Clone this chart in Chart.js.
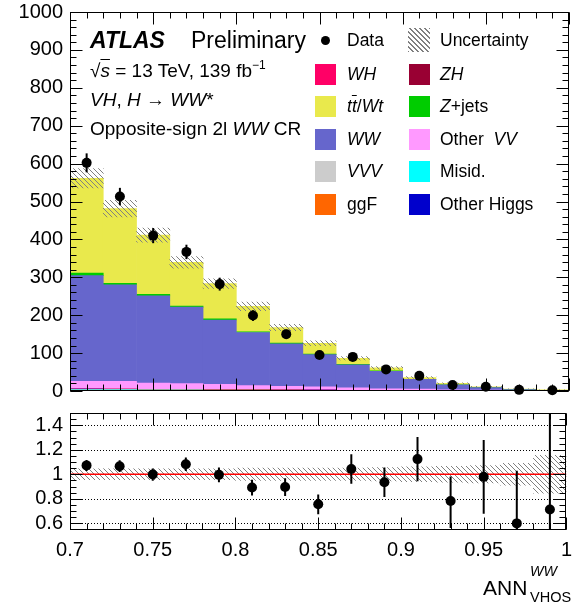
<!DOCTYPE html>
<html>
<head>
<meta charset="utf-8">
<script src="https://cdn.jsdelivr.net/npm/chart.js@4.4.1/dist/chart.umd.min.js"></script>
<style>
body { margin: 0; background: #fff; }
#wrap { position: relative; width: 580px; height: 608px; overflow: hidden; font-family: "Liberation Sans", Arial, sans-serif; color: #000; }
canvas { position: absolute; left: 0; }
#main { top: 0; }
#ratio { top: 400px; }
#frame { top: 0; }
.t { position: absolute; white-space: nowrap; line-height: 1; }
.lg { position: absolute; white-space: nowrap; line-height: 1; font-size: 17.5px; }
.sw { position: absolute; width: 21px; height: 21px; }
.hatch { background: repeating-linear-gradient(45deg, #808080 0 1px, transparent 1px 3.5px); }
</style>
</head>
<body>
<div id="wrap">
  <canvas id="main" width="580" height="403"></canvas>
  <canvas id="ratio" width="580" height="208"></canvas>
  <canvas id="frame" width="580" height="608"></canvas>

  <div class="t" style="left:90px;top:28.5px;font-size:23px;font-weight:bold;font-style:italic">ATLAS</div>
  <div class="t" style="left:191px;top:28.5px;font-size:23px">Preliminary</div>
  <div class="t" style="left:90px;top:61px;font-size:19px">√<span style="text-decoration:overline"><i>s</i></span> = 13 TeV, 139 fb<span style="font-size:12px;position:relative;top:-8px">−1</span></div>
  <div class="t" style="left:90px;top:90px;font-size:19px"><i>VH</i>, <i>H</i> → <i>WW</i>*</div>
  <div class="t" style="left:90px;top:119px;font-size:19px">Opposite-sign 2l <i>WW</i> CR</div>

  <div id="legend"></div>

  <div class="t" style="left:483px;top:577px;font-size:21px">ANN</div>
  <div class="t" style="left:530px;top:564px;font-size:14.3px;font-style:italic">WW</div>
  <div class="t" style="left:530px;top:590px;font-size:14.5px">VHOS</div>
</div>
<script>
// bins of ANN_VHOS^WW, width 0.02
const xMin = 0.7, xMax = 1.0
const binCenters = [0.71, 0.73, 0.75, 0.77, 0.79, 0.81, 0.83, 0.85, 0.87, 0.89, 0.91, 0.93, 0.95, 0.97, 0.99]

const dataCounts = [602, 513, 410, 367, 282, 199, 150, 95, 90, 57, 40, 16, 11, 3, 2]
const dataErr = [25, 23, 20, 19, 17, 14, 12, 10, 9.5, 7.5, 6.3, 4, 3.3, 1.7, 1.4]

// backgrounds, bottom of the stack first
const misid = [3, 3, 2.5, 2.5, 2, 2, 1.5, 1.5, 1, 1, 0.6, 0.4, 0.3, 0.2, 0.1]
const vvv = [1, 1, 0.8, 0.8, 0.6, 0.5, 0.4, 0.3, 0.3, 0.2, 0.2, 0.1, 0.1, 0.05, 0.05]
const ggF = [0.6, 0.5, 0.5, 0.4, 0.3, 0.3, 0.2, 0.2, 0.1, 0.1, 0.1, 0.05, 0.05, 0.02, 0.02]
const otherHiggs = [0.2, 0.2, 0.2, 0.2, 0.1, 0.1, 0.1, 0.1, 0.1, 0.05, 0.05, 0.03, 0.02, 0.01, 0.01]
const zh = [0.2, 0.2, 0.2, 0.1, 0.1, 0.1, 0.1, 0.1, 0.05, 0.05, 0.05, 0.03, 0.02, 0.01, 0.01]
const wh = [0.4, 0.4, 0.4, 0.3, 0.3, 0.3, 0.2, 0.2, 0.2, 0.1, 0.1, 0.05, 0.05, 0.02, 0.02]
const otherVV = [20, 20, 16.5, 15, 14, 11, 10, 8.5, 6.5, 4.5, 4, 2.5, 1.7, 0.8, 0.5]
const ww = [279, 255, 230, 202, 170, 140, 112, 85, 61, 46, 25.5, 13, 6.5, 2.7, 1.2]
const zjets = [7, 4, 4, 3, 3, 2, 2, 1.5, 1, 1, 0.5, 0.3, 0.2, 0.1, 0.1]
const ttbar = [250, 197, 156, 115, 93, 67, 41, 28.5, 16, 8, 4.5, 4, 2.3, 1.1, 0.8]

// relative uncertainty of the total prediction
const uncRel = [0.045, 0.045, 0.045, 0.045, 0.045, 0.05, 0.05, 0.05, 0.05, 0.055, 0.06, 0.065, 0.07, 0.09, 0.155]

// ratio error bars
const ratioErrUp = [0.045, 0.048, 0.05, 0.055, 0.06, 0.065, 0.072, 0.08, 0.12, 0.12, 0.18, 0.2, 0.3, 0.43, 1.0]
const ratioErrDown = [0.045, 0.048, 0.05, 0.055, 0.06, 0.065, 0.072, 0.08, 0.12, 0.12, 0.18, 0.22, 0.3, 0.35, 0.4]

// ticks
const mainYTicks = [0, 100, 200, 300, 400, 500, 600, 700, 800, 900, 1000]
const mainYLabels = ['0', '100', '200', '300', '400', '500', '600', '700', '800', '900', '1000']
const ratioYTicks = [0.6, 0.8, 1, 1.2, 1.4]
const ratioYLabels = ['0.6', '0.8', '1', '1.2', '1.4']
const ratioGrid = [0.6, 0.8, 1.2, 1.4]
const xTicks = [0.7, 0.75, 0.8, 0.85, 0.9, 0.95, 1.0]
const xLabels = ['0.7', '0.75', '0.8', '0.85', '0.9', '0.95', '1']

const stackList = [
    {label: 'Misid.', values: misid, color: '#00ffff'},
    {label: 'VVV', values: vvv, color: '#cccccc'},
    {label: 'ggF', values: ggF, color: '#ff6600'},
    {label: 'Other Higgs', values: otherHiggs, color: '#0000cc'},
    {label: 'ZH', values: zh, color: '#990033'},
    {label: 'WH', values: wh, color: '#ff0066'},
    {label: 'Other VV', values: otherVV, color: '#ff99ff'},
    {label: 'WW', values: ww, color: '#6666cc'},
    {label: 'Z+jets', values: zjets, color: '#00cc00'},
    {label: 'tt/Wt', values: ttbar, color: '#e9e94c'}
]

// legend, two columns
const legendRows = [40.7, 74.7, 106.7, 139, 171.3, 204]
const legendItems = [
    ['<i>WH</i>', '#ff0066', '<i>ZH</i>', '#990033'],
    ['<i>t</i><i style="text-decoration:overline">t</i>/<i>Wt</i>', '#e9e94c', '<i>Z</i>+jets', '#00cc00'],
    ['<i>WW</i>', '#6666cc', 'Other&nbsp; <i>VV</i>', '#ff99ff'],
    ['<i>VVV</i>', '#cccccc', 'Misid.', '#00ffff'],
    ['ggF', '#ff6600', 'Other Higgs', '#0000cc']
]

function range(a, b, step) {
    const out = []
    for (let v = a; v <= b + 1e-9; v += step) out.push(Math.round(v * 1e6) / 1e6)
    return out
}

let lg = ''
lg += '<div style="position:absolute;left:320.5px;top:36.2px;width:9px;height:9px;border-radius:50%;background:#000"></div>'
lg += '<div class="lg" style="left:347px;top:' + (legendRows[0] - 8.5) + 'px">Data</div>'
lg += '<div class="hatch" style="position:absolute;left:408px;top:28px;width:22px;height:24px"></div>'
lg += '<div class="lg" style="left:440px;top:' + (legendRows[0] - 8.5) + 'px">Uncertainty</div>'
for (let i in legendItems) {
    const cy = legendRows[+i + 1]
    const it = legendItems[i]
    lg += '<div class="sw" style="left:315px;top:' + (cy - 10.5) + 'px;background:' + it[1] + '"></div>'
    lg += '<div class="lg" style="left:347px;top:' + (cy - 8.5) + 'px">' + it[0] + '</div>'
    lg += '<div class="sw" style="left:408.5px;top:' + (cy - 10.5) + 'px;background:' + it[3] + '"></div>'
    lg += '<div class="lg" style="left:440px;top:' + (cy - 8.5) + 'px">' + it[2] + '</div>'
}
document.getElementById('legend').innerHTML = lg

const total = binCenters.map((x, i) => stackList.reduce((s, d) => s + d.values[i], 0))
const ratio = dataCounts.map((d, i) => d / total[i])

const pts = (ys) => binCenters.map((x, i) => ({x: x, y: ys[i]}))

function hatchPattern() {
    const s = 5
    const c = document.createElement('canvas')
    c.width = s
    c.height = s
    const g = c.getContext('2d')
    g.strokeStyle = '#808080'
    g.lineWidth = 1
    for (const k of [-s, 0, s]) {
        g.beginPath()
        g.moveTo(k, 0)
        g.lineTo(k + s, s)
        g.stroke()
    }
    return g.createPattern(c, 'repeat')
}

// dotted reference lines of the ratio panel
const dottedLines = {
    id: 'dottedLines',
    beforeDatasetsDraw(chart) {
        if (chart.canvas.id !== 'ratio') return
        const ctx = chart.ctx, a = chart.chartArea, y = chart.scales.y
        ctx.save()
        ctx.strokeStyle = '#000'
        ctx.lineWidth = 1
        ctx.setLineDash([1, 2])
        for (const v of ratioGrid) {
            const py = Math.round(y.getPixelForValue(v)) + 0.5
            ctx.beginPath()
            ctx.moveTo(a.left, py)
            ctx.lineTo(a.right, py)
            ctx.stroke()
        }
        ctx.restore()
    }
}

// frame with inner ticks on all four sides, on an overlay canvas, from the chart's own scales
function drawFrame(chart, cfg, top) {
    const ctx = document.getElementById('frame').getContext('2d')
    const a = chart.chartArea
    const sx = chart.scales.x, sy = chart.scales.y
    ctx.save()
    ctx.strokeStyle = '#000'
    ctx.lineWidth = 1
    const L = Math.round(a.left) + 0.5, R = Math.round(a.right) - 0.5
    const T = Math.round(a.top + top) + 0.5, B = Math.round(a.bottom + top) - 0.5
    ctx.strokeRect(L, T, R - L, B - T)
    ctx.beginPath()
    const xs = [[cfg.xMinor, 6], [cfg.xMajor, 12]]
    for (let k = 0; k < 2; k++) {
        const vals = xs[k][0], len = xs[k][1]
        for (let j = 0; j < vals.length; j++) {
            const px = Math.round(sx.getPixelForValue(vals[j])) + 0.5
            ctx.moveTo(px, B); ctx.lineTo(px, B - len)
            ctx.moveTo(px, T); ctx.lineTo(px, T + len)
        }
    }
    const ys = [[cfg.yMinor, 6], [cfg.yMajor, 12]]
    for (let k = 0; k < 2; k++) {
        const vals = ys[k][0], len = ys[k][1]
        for (let j = 0; j < vals.length; j++) {
            const py = Math.round(sy.getPixelForValue(vals[j]) + top) + 0.5
            ctx.moveTo(L, py); ctx.lineTo(L + len, py)
            ctx.moveTo(R, py); ctx.lineTo(R - len, py)
        }
    }
    ctx.stroke()
    ctx.restore()
}

Chart.defaults.font.family = "'Liberation Sans', Arial, sans-serif"
Chart.defaults.color = '#000'

const hatch = hatchPattern()
// small lineHeight keeps Chart.js from adding label padding above and below the plot
const yTickFont = {size: 20, lineHeight: 0.5}
const xTickFont = {size: 20}

// ---- main panel ----
const mainSets = [
    {type: 'line', label: 'Data', data: pts(dataCounts), yAxisID: 'yFree', showLine: false,
     pointRadius: 5, pointBackgroundColor: '#000', pointBorderColor: '#000', pointBorderWidth: 0, order: 0, clip: false},
    {label: 'err', data: binCenters.map((x, i) => ({x: x, y: [dataCounts[i] - dataErr[i], dataCounts[i] + dataErr[i]]})),
     yAxisID: 'yFree', grouped: false, maxBarThickness: 2, backgroundColor: '#000', order: 1, clip: 0},
    {label: 'Uncertainty', data: binCenters.map((x, i) => ({x: x, y: [total[i] * (1 - uncRel[i]), total[i] * (1 + uncRel[i])]})),
     yAxisID: 'yFree', grouped: false, barPercentage: 1, categoryPercentage: 1, backgroundColor: hatch, order: 2, clip: 0}
]
for (const s of stackList) {
    mainSets.push({label: s.label, data: pts(s.values), yAxisID: 'y', backgroundColor: s.color,
        borderWidth: 0, barPercentage: 1, categoryPercentage: 1, order: 3, clip: 0})
}

const mainChart = new Chart(document.getElementById('main'), {
    type: 'bar',
    data: {datasets: mainSets},
    options: {
        responsive: false,
        animation: false,
        events: [],
        layout: {padding: {left: 0, right: 11, top: 12, bottom: 12}},
        plugins: {legend: {display: false}, tooltip: {enabled: false}},
        scales: {
            x: {type: 'linear', min: xMin, max: xMax, stacked: true, offset: false, display: false,
                afterBuildTicks: s => { s.ticks = xTicks.map(v => ({value: v})) }},
            y: {type: 'linear', min: 0, max: 1000, stacked: true, position: 'left',
                grid: {display: false, drawTicks: false}, border: {display: false},
                afterFit: s => { s.width = 70 },
                afterBuildTicks: s => { s.ticks = mainYTicks.map(v => ({value: v})) },
                ticks: {font: yTickFont, padding: 7, callback: v => mainYLabels[mainYTicks.indexOf(v)]}},
            yFree: {type: 'linear', min: 0, max: 1000, display: false}
        }
    }
})

// ---- ratio panel ----
const ratioChart = new Chart(document.getElementById('ratio'), {
    type: 'bar',
    data: {datasets: [
        {type: 'line', label: 'ratio', data: pts(ratio), showLine: false,
         pointRadius: 5, pointBackgroundColor: '#000', pointBorderColor: '#000', pointBorderWidth: 0, order: 0, clip: false},
        {label: 'err', data: binCenters.map((x, i) => ({x: x, y: [ratio[i] - ratioErrDown[i], ratio[i] + ratioErrUp[i]]})),
         grouped: false, maxBarThickness: 2, backgroundColor: '#000', order: 1, clip: 0},
        {type: 'line', label: 'one', data: [{x: xMin, y: 1}, {x: xMax, y: 1}], borderColor: '#ff0000', borderWidth: 1.5,
         pointRadius: 0, order: 2, clip: 0},
        {label: 'Uncertainty', data: binCenters.map((x, i) => ({x: x, y: [1 - uncRel[i], 1 + uncRel[i]]})),
         grouped: false, barPercentage: 1, categoryPercentage: 1, backgroundColor: hatch, order: 3, clip: 0}
    ]},
    options: {
        responsive: false,
        animation: false,
        events: [],
        layout: {padding: {left: 0, right: 11, top: 13, bottom: 0}},
        plugins: {legend: {display: false}, tooltip: {enabled: false}},
        scales: {
            x: {type: 'linear', min: xMin, max: xMax, position: 'bottom', offset: false,
                grid: {display: false, drawTicks: false}, border: {display: false},
                afterFit: s => { s.height = 78 },
                afterBuildTicks: s => { s.ticks = xTicks.map(v => ({value: v})) },
                ticks: {font: xTickFont, padding: 8, maxRotation: 0, autoSkip: false,
                        callback: (v, i) => xLabels[i]}},
            y: {type: 'linear', min: 0.545, max: 1.5, position: 'left',
                grid: {display: false, drawTicks: false}, border: {display: false},
                afterFit: s => { s.width = 70 },
                afterBuildTicks: s => { s.ticks = ratioYTicks.map(v => ({value: v})) },
                ticks: {font: yTickFont, padding: 7, callback: (v, i) => ratioYLabels[i]}}
        }
    },
    plugins: [dottedLines]
})

drawFrame(mainChart, {xMajor: xTicks, xMinor: range(xMin, xMax, 0.01), yMajor: mainYTicks, yMinor: range(0, 1000, 20)}, 0)
drawFrame(ratioChart, {xMajor: xTicks, xMinor: range(xMin, xMax, 0.01), yMajor: ratioYTicks, yMinor: range(0.55, 1.5, 0.05)}, 400)
</script>
</body>
</html>
